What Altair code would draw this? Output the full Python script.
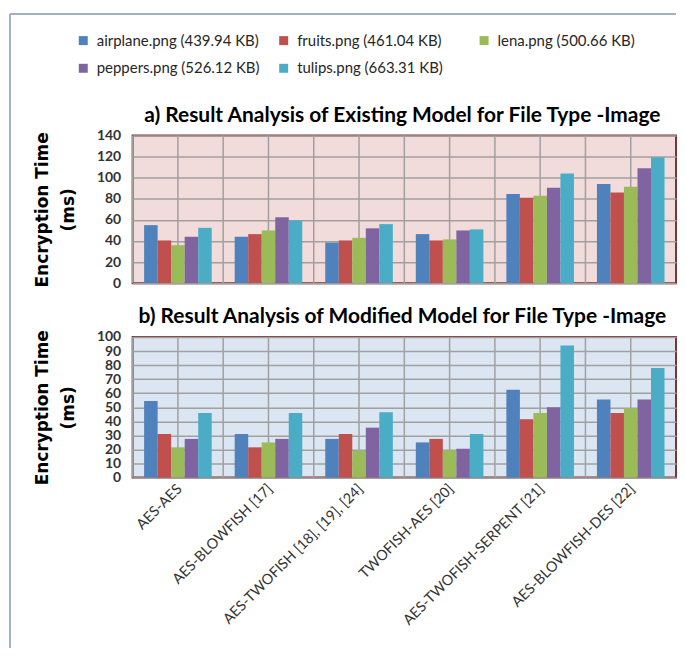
import altair as alt
import pandas as pd

categories = ["AES-AES", "AES-BLOWFISH [17]", "AES-TWOFISH [18], [19], [24]",
              "TWOFISH-AES [20]", "AES-TWOFISH-SERPENT  [21]", "AES-BLOWFISH-DES [22]"]
series = ["airplane.png (439.94 KB)", "fruits.png (461.04 KB)", "lena.png (500.66 KB)",
          "peppers.png (526.12 KB)", "tulips.png (663.31 KB)"]
colors = ["#4F81BD", "#C0504D", "#9BBB59", "#8064A2", "#4BACC6"]
titles = ["a) Result Analysis of Existing Model for File Type -Image",
          "b) Result Analysis of Modified Model for File Type -Image"]

existing_airplane = [55, 44, 38.5, 46.5, 84.5, 94]
existing_fruits = [40.5, 46.5, 40.5, 40.5, 81, 86]
existing_lena = [36, 50, 43, 41.5, 83, 91.5]
existing_peppers = [44, 62.5, 52, 50, 90.5, 109]
existing_tulips = [52.5, 59.5, 56, 51, 104, 119.5]

modified_airplane = [54.5, 31, 27.5, 25, 62.5, 55.5]
modified_fruits = [31, 21.5, 31, 27.5, 41.5, 46]
modified_lena = [21.5, 25, 19, 19.5, 46, 49.5]
modified_peppers = [27.5, 27.5, 35.5, 20.5, 50, 55.5]
modified_tulips = [46, 46, 46.5, 31, 94, 78]

existing = [existing_airplane, existing_fruits, existing_lena, existing_peppers, existing_tulips]
modified = [modified_airplane, modified_fruits, modified_lena, modified_peppers, modified_tulips]


def to_df(vals):
    rows = []
    for s, arr in zip(series, vals):
        for c, v in zip(categories, arr):
            rows.append({"category": c, "series": s, "value": v})
    return pd.DataFrame(rows)


cat_df = pd.DataFrame({"category": categories})
one_df = pd.DataFrame({"k": [0]})

W = 545
GRID = "#A0A0A0"
BORDER = "#7A3432"


def panel(df, title, ymax, step, height, bg, show_x, extra=None):
    xscale = alt.Scale(domain=categories, paddingInner=0, paddingOuter=0)
    if show_x:
        xaxis = alt.Axis(title=None, labelAngle=-45, labelAlign="right", labelBaseline="middle",
                         labelPadding=9, labelOffset=2, ticks=False, domain=False, labelFont="Lato",
                         labelFontSize=14.5, labelColor="#333333", labelLimit=300, grid=False)
    else:
        xaxis = None
    bars = alt.Chart(df).mark_bar(stroke=None).encode(
        x=alt.X("category:N", sort=categories, scale=xscale, axis=xaxis),
        xOffset=alt.XOffset("series:N", sort=series,
                            scale=alt.Scale(domain=series, paddingInner=0, paddingOuter=0.85)),
        y=alt.Y("value:Q", scale=alt.Scale(domain=[0, ymax], nice=False),
                axis=alt.Axis(values=list(range(0, ymax + 1, step)), title=["Encryption Time", "(ms)"],
                              titleFont="DejaVu Sans", titleFontSize=17, titleFontWeight="bold",
                              titleColor="black", titleLineHeight=26, titlePadding=19,
                              labelFont="Lato", labelFontSize=14, labelFontWeight="bold",
                              labelColor="#333333", labelPadding=12, ticks=False, domain=False,
                              grid=True, gridColor=GRID, gridWidth=1.5)),
        color=alt.Color("series:N", sort=series, scale=alt.Scale(domain=series, range=colors),
                        legend=alt.Legend(title=None, orient="none", legendX=-57, legendY=-103,
                                          columns=3, direction="horizontal", symbolType="square",
                                          symbolSize=81, symbolStrokeWidth=0, labelFont="Lato",
                                          labelFontSize=15, labelColor="#262626", labelOffset=6,
                                          rowPadding=12, columnPadding=16, gridAlign="all",
                                          padding=0, labelLimit=300)),
    )
    vcenter = alt.Chart(cat_df).mark_rule(color=GRID, strokeWidth=1.5).encode(
        x=alt.X("category:N", sort=categories, scale=xscale, axis=xaxis, bandPosition=0.5))
    vbound = alt.Chart(cat_df).mark_rule(color=GRID, strokeWidth=1.5).encode(
        x=alt.X("category:N", sort=categories, scale=xscale, axis=xaxis, bandPosition=0))
    ttl = alt.Chart(one_df).transform_calculate(t=repr(title)).mark_text(
        font="Lato", fontSize=21, fontWeight="bold", color="black", align="center",
        baseline="alphabetic").encode(text="t:N", x=alt.value(W / 2 - 2), y=alt.value(-14))
    layers = [vcenter, vbound, bars, ttl]
    if extra is not None:
        layers += extra
    return alt.layer(*layers).properties(
        width=W, height=height,
        view=alt.ViewBackground(fill=bg, stroke=BORDER, strokeWidth=2),
    )


frame_left = alt.Chart(one_df).mark_rule(color="#8497B0", strokeWidth=1.5).encode(
    x=alt.value(-123), y=alt.value(-324), y2=alt.value(312))
frame_top = alt.Chart(one_df).mark_rule(color="#8497B0", strokeWidth=1.5).encode(
    x=alt.value(-123), x2=alt.value(W), y=alt.value(-324))

top = panel(to_df(existing), titles[0], 140, 20, 148, "#F2DCDB", False)
bottom = panel(to_df(modified), titles[1], 100, 10, 141, "#DCE6F2", True,
               extra=[frame_left, frame_top])

chart = alt.vconcat(top, bottom, spacing=54, bounds="flush").properties(
    padding={"left": 0, "top": 3, "right": 0, "bottom": 0},
    background="white",
).configure_view(strokeWidth=2)

chart.save("out.html", embed_options={"renderer": "svg", "actions": False})
